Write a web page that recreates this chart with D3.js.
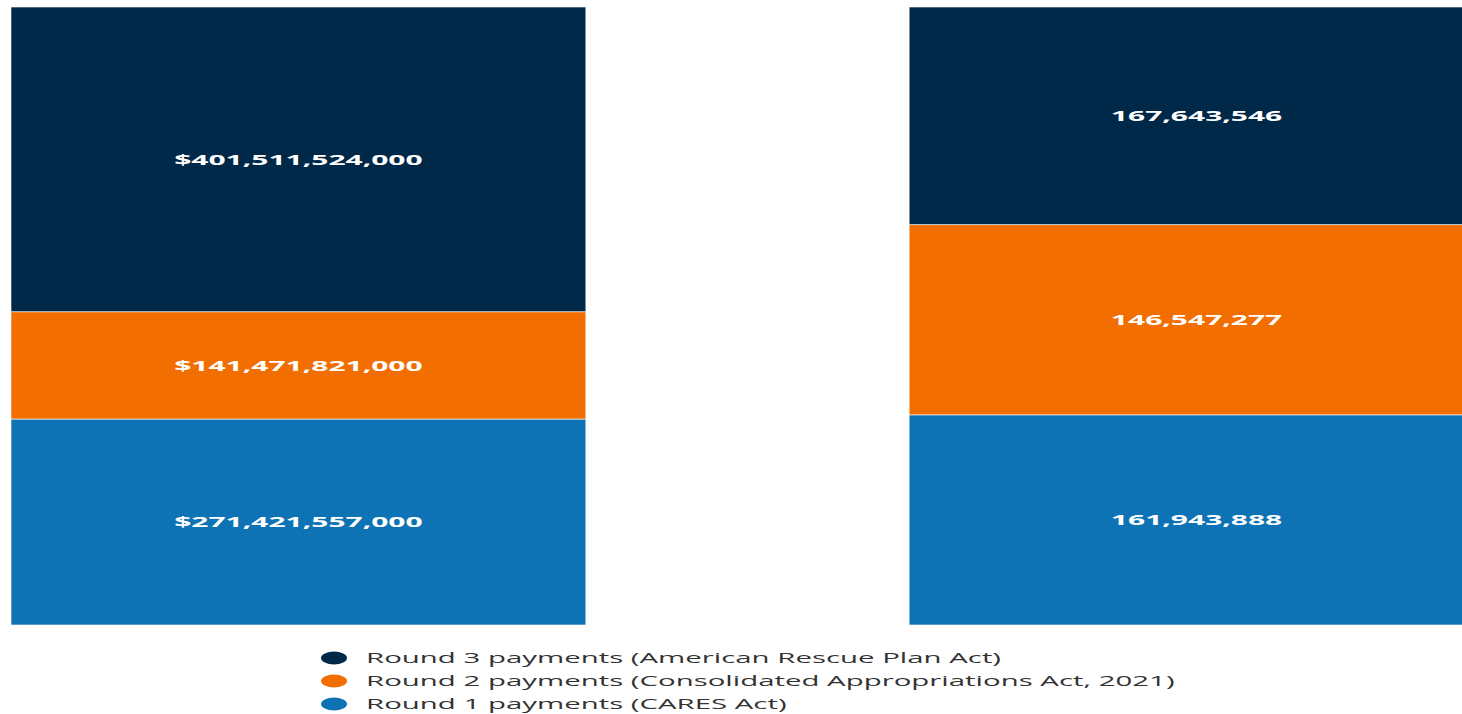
<!DOCTYPE html>
<html><head><meta charset="utf-8">
<script src="https://cdn.jsdelivr.net/npm/d3@7"></script>
<style>body{margin:0;background:#fff}svg{display:block}</style>
</head><body>
<svg id="chart" width="1462" height="714"></svg>
<script>
const categories = ["Amount", "Payments"];
const seriesNames = [
  "Round 1 payments (CARES Act)",
  "Round 2 payments (Consolidated Appropriations Act, 2021)",
  "Round 3 payments (American Rescue Plan Act)"
];
const round1 = [271421557000, 161943888];
const round2 = [141471821000, 146547277];
const round3 = [401511524000, 167643546];
const labelPrefix = ["$", ""];
const colors = ["#0e73b5", "#f36e00", "#002848"];

const svg = d3.select("#chart");
const g = svg.append("g").attr("transform", "scale(2,1)");

const x = d3.scaleBand().domain(categories).range([5.5, 742]).paddingInner(0.36).paddingOuter(0);
const y = d3.scaleLinear().domain([0, 1]).range([625, 7]);

const seriesVals = [round1, round2, round3];
const rows = categories.map((c, i) => {
  const o = {cat: c, idx: i};
  const total = seriesVals.reduce((s, a) => s + a[i], 0);
  seriesVals.forEach((a, k) => { o["s" + k] = a[i] / total; o["v" + k] = a[i]; });
  return o;
});
const stack = d3.stack().keys(["s0", "s1", "s2"]);
const stacked = stack(rows);
const fmt = d3.format(",");

stacked.forEach((layer, k) => {
  const lg = g.append("g");
  lg.selectAll("rect").data(layer).join("rect")
    .attr("x", d => x(d.data.cat))
    .attr("width", x.bandwidth())
    .attr("y", d => y(d[1]))
    .attr("height", d => y(d[0]) - y(d[1]))
    .attr("fill", colors[k])
    .attr("stroke", "#ffffff")
    .attr("stroke-width", 0.6)
    .attr("vector-effect", "non-scaling-stroke");
  lg.selectAll("text").data(layer).join("text")
    .attr("x", d => x(d.data.cat) + x.bandwidth() / 2)
    .attr("y", d => (y(d[0]) + y(d[1])) / 2)
    .attr("dy", "0.35em")
    .attr("text-anchor", "middle")
    .attr("fill", "#ffffff")
    .attr("font-family", "Open Sans")
    .attr("font-weight", "bold")
    .attr("font-size", 15)
    .text(d => labelPrefix[d.data.idx] + fmt(d.data["v" + k]));
});

const legendOrder = [2, 1, 0];
const leg = g.append("g");
legendOrder.forEach((k, i) => {
  const cy = 658 + i * 23;
  leg.append("circle").attr("cx", 167).attr("cy", cy).attr("r", 6.5).attr("fill", colors[k]);
  leg.append("text").attr("x", 183).attr("y", cy).attr("dy", "0.35em")
    .attr("font-family", "Open Sans").attr("font-size", 14.7).attr("fill", "#333333")
    .text(seriesNames[k]);
});
</script>
</body></html>
